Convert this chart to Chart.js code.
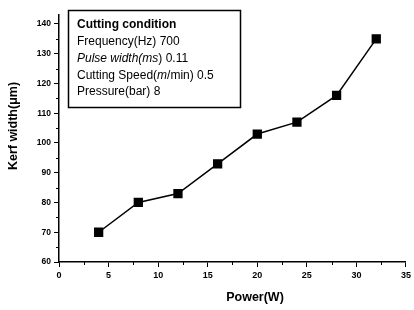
<!DOCTYPE html>
<html>
<head>
<meta charset="utf-8">
<script src="https://cdn.jsdelivr.net/npm/chart.js@4"></script>
<style>
  html, body { margin: 0; padding: 0; background: #fff; }
  #wrap { width: 414px; height: 310px; }
</style>
</head>
<body>
<div id="wrap"><canvas id="kerfChart" width="414" height="310"></canvas></div>
<script>
// data
var powerW = [4, 8, 12, 16, 20, 24, 28, 32];
var kerfUm = [70, 80, 83, 93, 103, 107, 116, 135];
var yTicks = [60, 70, 80, 90, 100, 110, 120, 130, 140];

// legend box text (segments: [text, italic?])
var condTitle = 'Cutting condition';
var condLines = [
    [['Frequency(Hz) 700', false]],
    [['Pulse width(', true], ['ms', true], [') 0.11', false]],
    [['Cutting Speed(', false], ['m', true], ['/min) 0.5', false]],
    [['Pressure(bar) 8', false]]
];
var xTitle = 'Power(W)';
var yTitle = 'Kerf width(μm)';

var FONT = '"Liberation Sans", Arial, sans-serif';

// minor ticks, axis titles, condition box
var extras = {
    id: 'extras',
    afterDraw: function(chart) {
        var ctx = chart.ctx;
        var xs = chart.scales.x, ys = chart.scales.y;
        var area = chart.chartArea;
        ctx.save();
        ctx.strokeStyle = '#000';
        ctx.lineWidth = 1;
        ctx.beginPath();
        for (var v = 2.5; v < 35; v += 5) {
            var px = Math.round(xs.getPixelForValue(v)) + 0.5;
            ctx.moveTo(px, area.bottom);
            ctx.lineTo(px, area.bottom + 3);
        }
        for (var w = 65; w < 140; w += 10) {
            var py = Math.round(ys.getPixelForValue(w)) + 0.5;
            ctx.moveTo(area.left, py);
            ctx.lineTo(area.left - 3, py);
        }
        ctx.stroke();

        ctx.fillStyle = '#000';
        ctx.textBaseline = 'middle';
        ctx.textAlign = 'center';
        ctx.font = 'bold 12.5px ' + FONT;
        ctx.fillText(xTitle, 255, 298);

        ctx.save();
        ctx.translate(14, 126);
        ctx.rotate(-Math.PI / 2);
        ctx.font = 'bold 12.5px ' + FONT;
        ctx.fillText(yTitle, 0, 0);
        ctx.restore();

        // condition box
        ctx.textAlign = 'left';
        ctx.lineWidth = 1.5;
        ctx.strokeRect(68.5, 10.5, 172, 97);
        ctx.font = 'bold 12px ' + FONT;
        ctx.fillText(condTitle, 77, 25);
        var y = 42;
        condLines.forEach(function(line) {
            var x = 77;
            line.forEach(function(seg) {
                ctx.font = (seg[1] ? 'italic ' : '') + '12px ' + FONT;
                ctx.fillText(seg[0], x, y);
                x += ctx.measureText(seg[0]).width;
            });
            y += 16.7;
        });
        ctx.restore();
    }
};

var ctx = document.getElementById('kerfChart').getContext('2d');
var myChart = new Chart(ctx, {
    type: 'line',
    data: {
        datasets: [{
            data: powerW.map(function(p, i) { return { x: p, y: kerfUm[i] }; }),
            borderColor: '#000',
            backgroundColor: '#000',
            borderWidth: 1.5,
            pointStyle: 'rect',
            pointRadius: 5.5,
            pointHoverRadius: 5.5,
            tension: 0
        }]
    },
    options: {
        responsive: false,
        animation: false,
        layout: { padding: { top: 15, right: 7, left: 0, bottom: 0 } },
        plugins: {
            legend: { display: false },
            tooltip: { enabled: false }
        },
        scales: {
            x: {
                type: 'linear',
                min: 0, max: 35,
                ticks: {
                    stepSize: 5,
                    color: '#000',
                    padding: 3,
                    font: { family: FONT, size: 9, weight: 'bold' }
                },
                grid: { drawOnChartArea: false, tickLength: 5, tickColor: '#000', tickWidth: 1 },
                border: { color: '#000', width: 1.5 },
                afterFit: function(scale) { scale.height = 48; }
            },
            y: {
                min: 60, max: 143,
                afterBuildTicks: function(scale) {
                    scale.ticks = yTicks.map(function(v) { return { value: v }; });
                },
                ticks: {
                    color: '#000',
                    padding: 3,
                    font: { family: FONT, size: 8.5, weight: 'bold' }
                },
                grid: { drawOnChartArea: false, tickLength: 5, tickColor: '#000', tickWidth: 1 },
                border: { color: '#000', width: 1.5 },
                afterFit: function(scale) { scale.width = 59; }
            }
        }
    },
    plugins: [extras]
});
</script>
</body>
</html>
